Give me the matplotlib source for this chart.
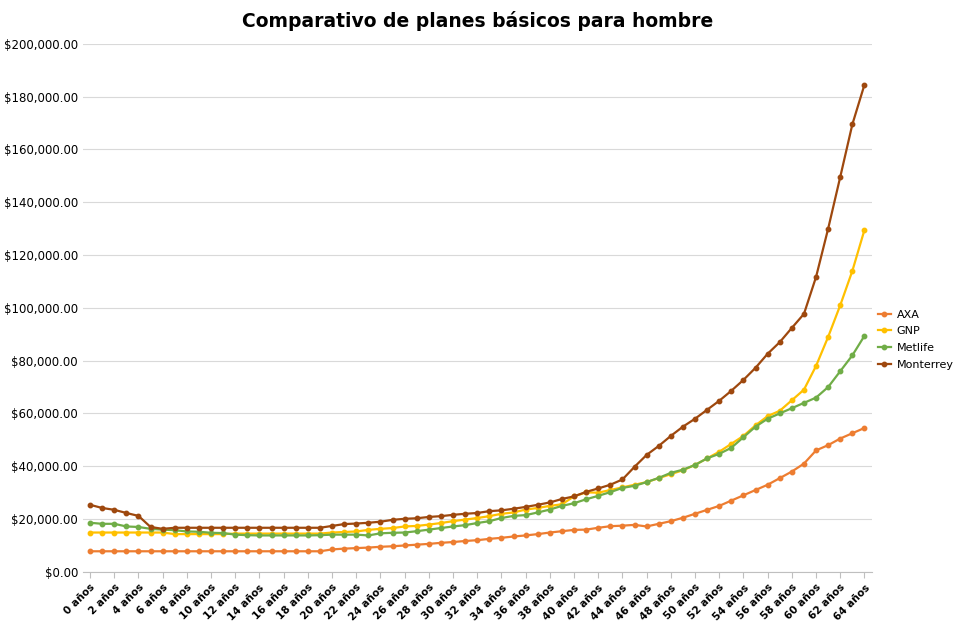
import matplotlib.pyplot as plt
from matplotlib.ticker import FuncFormatter

ages = list(range(65))
labels = [f"{a} años" for a in ages]

axa = [7.8] * 20 + [8.5, 8.8, 9.0, 9.2, 9.5, 9.7, 10.0, 10.3, 10.6, 11.0,
                    11.3, 11.7, 12.0, 12.5, 12.9, 13.4, 13.8, 14.3, 14.9, 15.4,
                    15.9, 16.0, 16.7, 17.3, 17.5, 17.8, 17.2, 18.2, 19.2, 20.5,
                    22.0, 23.5, 25.0, 27.0, 29.0, 31.0, 33.0, 35.5, 38.0, 41.0,
                    46.0, 48.0, 50.5, 52.5, 54.5]
gnp = [14.9] * 7 + [14.3] * 5 + [14.5] * 8 + [
    14.9, 15.1, 15.3, 15.9, 16.3, 16.6, 17.2, 17.4, 17.9, 18.5,
    19.2, 19.8, 20.4, 21.1, 22.0, 22.5, 23.6, 24.2, 25.0, 25.6,
    28.6, 30.1, 30.0, 31.0, 32.0, 33.0, 34.0, 35.5, 37.0, 38.5,
    40.5, 43.0, 45.5, 48.5, 51.5, 55.5, 59.0, 61.0, 65.0, 69.0,
    78.0, 89.0, 101.0, 114.0, 129.5]
metlife = [18.6, 18.2, 18.2, 17.2, 17.0, 16.3, 16.0, 15.8, 15.3, 15.2,
           14.8, 14.7, 14.1, 13.9, 13.8, 13.8, 13.8, 13.8, 13.8, 13.9,
           14.1, 14.1, 14.1, 13.8, 14.6, 14.8, 14.9, 15.4, 16.0, 16.6,
           17.2, 17.7, 18.5, 19.2, 20.4, 21.2, 21.5, 22.5, 23.6, 25.0,
           26.0, 27.5, 28.8, 30.2, 31.8, 32.6, 34.0, 35.6, 37.5, 38.7,
           40.5, 43.0, 44.7, 47.0, 51.0, 55.0, 58.0, 60.0, 62.0, 64.0,
           66.0, 70.0, 76.0, 82.0, 89.4]
monterrey = [25.4, 24.2, 23.5, 22.3, 21.2, 17.0, 16.3] + [16.7] * 13 + [
    17.4, 18.1, 18.3, 18.6, 19.0, 19.7, 20.1, 20.3, 20.8, 21.1,
    21.6, 22.0, 22.3, 23.0, 23.3, 23.9, 24.6, 25.4, 26.3, 27.6,
    28.6, 30.3, 31.6, 33.0, 35.0, 39.8, 44.3, 47.7, 51.5, 55.0,
    58.0, 61.4, 64.8, 68.6, 72.7, 77.3, 82.6, 87.0, 92.4, 97.7,
    111.7, 130.0, 149.6, 169.5, 184.5]

series = [("AXA", axa, "#ED7D31"), ("GNP", gnp, "#FFC000"),
          ("Metlife", metlife, "#70AD47"), ("Monterrey", monterrey, "#9E480E")]

fig = plt.figure(figsize=(9.74, 6.25), dpi=100)
ax = fig.add_axes([0.085, 0.085, 0.81, 0.845])

for name, vals, color in series:
    ax.plot(ages, [v * 1000 for v in vals], color=color, lw=1.6,
            marker="o", markersize=3.2, label=name)

ax.set_ylim(0, 200000)
ax.set_yticks(range(0, 200001, 20000))
ax.yaxis.set_major_formatter(FuncFormatter(lambda v, p: f"${v:,.2f}"))
ax.set_xlim(-0.6, 64.6)
ax.set_xticks(ages[::2])
ax.set_xticklabels(labels[::2], rotation=45, ha="right", rotation_mode="anchor",
                   fontsize=7.5, fontweight="bold")
ax.tick_params(axis="y", labelsize=8.5, length=0)
ax.tick_params(axis="x", length=4, color="#BFBFBF")
ax.grid(axis="y", color="#D9D9D9", lw=0.8)
ax.set_axisbelow(True)
for s in ["top", "right", "left"]:
    ax.spines[s].set_visible(False)
ax.spines["bottom"].set_color("#BFBFBF")

ax.set_title("Comparativo de planes básicos para hombre", fontsize=13.5,
             fontweight="bold", pad=12)
ax.legend(loc="center left", bbox_to_anchor=(0.995, 0.44), frameon=False,
          fontsize=8, handlelength=1.2, handletextpad=0.5, labelspacing=0.6)

fig.savefig("out.png", dpi=100)
